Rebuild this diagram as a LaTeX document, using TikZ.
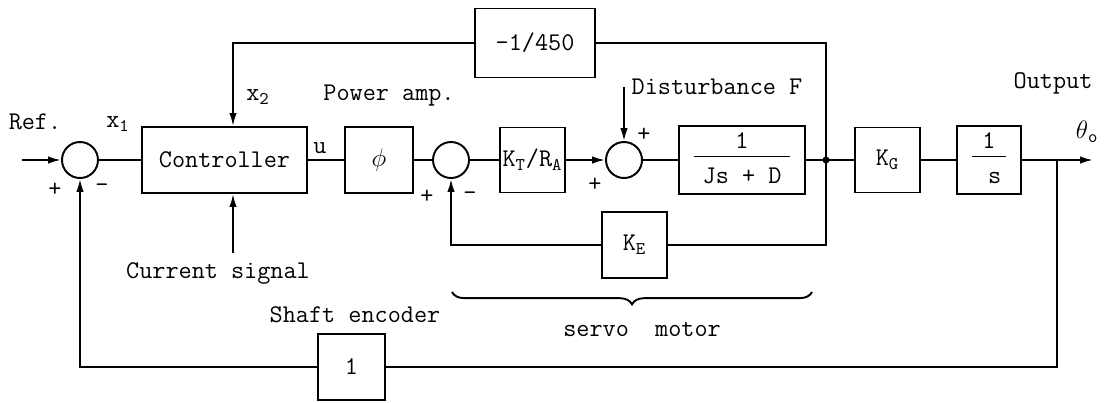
\documentclass[tikz,border=0pt]{standalone}
\usetikzlibrary{arrows.meta,positioning,calc,decorations.pathreplacing}
\newcommand{\frc}[2]{\begin{tabular}{@{\,}c@{\,}}#1\\[-1pt]\hline\rule{0pt}{1.05em}#2\end{tabular}}

\begin{document}
\begin{tikzpicture}[font=\fontsize{14.5}{17}\ttfamily,line width=1.1pt,
 blk/.style={draw,rectangle,minimum width=1.3cm,minimum height=1.3cm,inner sep=1pt},
 sum/.style={draw,circle,minimum size=0.72cm,inner sep=0pt},
 arr/.style={-{Latex[length=2.6mm,width=1.5mm]}}]
\useasboundingbox (0,0) rectangle (22.18,-8.04);
% forward path
\coordinate (in) at (0.44,-3.2);
\node[sum] (s1) at (1.6,-3.2) {};
\node[blk,minimum width=3.3cm,minimum height=1.32cm] (ctrl) at (4.49,-3.2) {Controller};
\node[blk,minimum width=1.36cm,minimum height=1.32cm] (amp) at (7.58,-3.2) {$\phi$};
\node[sum] (s2) at (9.02,-3.2) {};
\node[blk] (kt) at (10.65,-3.2) {K\textsubscript{T}/R\textsubscript{A}};
\node[sum] (s3) at (12.48,-3.2) {};
\node[blk,minimum width=2.52cm,minimum height=1.26cm] (plant) at (14.84,-3.2) {\frc{1}{\,Js + D\,}};
\coordinate (j) at (16.52,-3.2);
\node[blk] (kg) at (17.75,-3.2) {K\textsubscript{G}};
\node[blk,minimum width=1.28cm] (integ) at (19.78,-3.2) {\frc{1}{\hspace{0.45em}s\hspace{0.45em}}};
\coordinate (tap) at (21.14,-3.2);
\coordinate (out) at (21.86,-3.2);
% feedback blocks
\node[blk,minimum width=2.4cm,minimum height=1.38cm] (g450) at (10.7,-0.86) {-1/450};
\node[blk,minimum height=1.32cm] (ke) at (12.69,-4.9) {K\textsubscript{E}};
\node[blk,minimum width=1.34cm,minimum height=1.32cm] (enc) at (7.03,-7.34) {1};
% labels
\node (ref) at (0.70,-2.44) {Ref.};
\node (x1) at (2.36,-2.48) {x\textsubscript{1}};
\node (x2) at (5.16,-1.94) {x\textsubscript{2}};
\node (u) at (6.4,-2.96) {u};
\node (pwr) at (7.78,-1.92) {Power amp.};
\node (dist) at (14.34,-1.74) {Disturbance F};
\node (outl) at (21.06,-1.66) {Output};
\node (th) at (21.74,-2.64) {$\theta$\textsubscript{o}};
\node (cur) at (4.36,-5.46) {Current signal};
\coordinate (cin) at (4.66,-5.06);
\node (shaft) at (7.1,-6.3) {Shaft encoder};
\node (servo) at (12.84,-6.6) {servo\ \ motor};
% signs
\node at (1.10,-3.80) {+};
\node at (2.04,-3.76) {-};
\node at (8.54,-3.94) {+};
\node at (9.40,-3.92) {-};
\node at (12.88,-2.70) {+};
\node at (11.9,-3.70) {+};
% connections
\draw[arr] (in) -- (s1);
\draw (s1) -- (ctrl);
\draw (ctrl) -- (amp);
\draw (amp) -- (s2);
\draw (s2) -- (kt);
\draw[arr] (kt) -- (s3);
\draw (s3) -- (plant);
\draw (plant) -- (kg);
\draw (kg) -- (integ);
\draw[arr] (integ) -- (out);
\fill (j) circle (2pt);
\draw[arr] (s3 |- dist) -- (s3);
\draw[arr] (cin) -- (cin |- ctrl.south);
\draw (j) |- (g450);
\draw[arr] (g450) -| ([xshift=0.17cm]ctrl.north);
\draw (j) |- (ke);
\draw[arr] (ke) -| (s2);
\draw (tap) |- (enc);
\draw[arr] (enc) -| (s1);
\draw[decorate,decoration={brace,mirror,amplitude=7pt}] (9.04,-5.84) -- (16.24,-5.84);
\end{tikzpicture}
\end{document}
